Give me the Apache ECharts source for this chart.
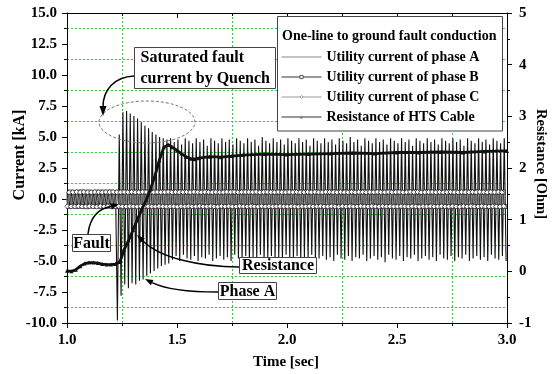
<!DOCTYPE html>
<html>
<head>
<meta charset="utf-8">
<script src="https://cdn.jsdelivr.net/npm/echarts@6/dist/echarts.min.js"></script>
<style>
html,body{margin:0;padding:0;background:#fff;}
#chart{width:554px;height:374px;}
</style>
</head>
<body>
<div id="chart"></div>
<script>
// ---------- DATA ----------
const lineFreqHz = 60;          // utility frequency, one peak pair per cycle
const timeStart = 1.0;          // s, first cycle
const xTicks = [1.0, 1.5, 2.0, 2.5, 3.0];
const currentTicks = [-10.0, -7.5, -5.0, -2.5, 0.0, 2.5, 5.0, 7.5, 10.0, 12.5, 15.0];
const resistanceTicks = [-1, 0, 1, 2, 3, 4, 5];

// Phase A: positive / negative peak of each cycle (kA)
const phaseAPos = [
  0.55,0.56,0.54,0.55,0.57,0.55,0.54,0.56,0.55,0.56,0.54,0.55,0.56,
  0.55,5.2,
  7.0,7.1,6.9,6.7,6.5,6.2,5.9,5.7,5.4,5.2,5.0,4.9,4.8,
  4.9,4.6,4.8,4.4,4.9,4.7,4.5,4.9,4.6,4.8,4.3,4.9,4.7,4.5,4.9,4.6,4.8,4.4,4.9,4.7,
  4.5,4.9,4.6,4.8,4.3,5.0,4.7,4.5,4.9,4.6,4.8,4.4,4.9,4.7,4.5,4.9,4.6,4.8,4.3,4.9,
  4.7,4.5,4.9,4.6,4.8,4.4,4.9,4.7,4.5,5.0,4.6,4.8,4.3,4.9,4.7,4.5,4.9,4.6,4.8,4.4,
  4.9,4.7,4.5,4.9,4.6,4.8,4.3,4.9,4.7,4.5,4.9,4.6,4.8,4.4,4.9,4.7,4.5,4.9,4.6,4.8,
  4.3,4.9,4.7,4.5,4.9,4.6,4.8,4.4,4.9,4.7,4.5,4.9
];
const phaseANeg = [
  -0.58,-0.6,-0.57,-0.59,-0.6,-0.58,-0.57,-0.6,-0.59,-0.58,-0.6,-0.57,-0.59,
  -9.8,-7.8,
  -6.9,-7.2,-6.8,-6.9,-6.6,-6.5,-6.2,-6.0,-5.8,-5.6,-5.4,-5.3,-5.2,
  -4.9,-4.6,-5.0,-4.5,-4.8,-4.9,-4.6,-5.0,-4.7,-4.8,-4.5,-5.0,-4.8,-4.6,-4.9,-4.7,-5.0,-4.5,-4.8,-4.9,
  -4.6,-5.0,-4.7,-4.8,-4.5,-5.1,-4.8,-4.6,-4.9,-4.7,-5.0,-4.5,-4.8,-4.9,-4.6,-5.0,-4.7,-4.8,-4.5,-5.0,
  -4.8,-4.6,-4.9,-4.7,-5.0,-4.5,-4.8,-4.9,-4.6,-5.0,-4.7,-4.8,-4.5,-5.0,-4.8,-4.6,-4.9,-4.7,-5.1,-4.5,
  -4.8,-4.9,-4.6,-5.0,-4.7,-4.8,-4.5,-5.0,-4.8,-4.6,-4.9,-4.7,-5.0,-4.5,-4.8,-4.9,-4.6,-5.0,-4.7,-4.8,
  -4.5,-5.0,-4.8,-4.6,-4.9,-4.7,-5.0,-4.5,-4.8,-4.9,-4.6,-5.0
];
// Phase B / C: peaks of each cycle (kA) – they stay in the narrow band
const phaseBPos = [
  0.55,0.56,0.54,0.55,0.57,0.55,0.56,0.54,0.55,0.56,0.56,0.55,0.57,0.54,0.55,0.56,0.55,0.54,0.56,0.55,
  0.54,0.56,0.55,0.57,0.55,0.54,0.56,0.55,0.56,0.54,0.55,0.57,0.56,0.55,0.54,0.56,0.55,0.55,0.57,0.54,
  0.56,0.55,0.54,0.56,0.55,0.57,0.55,0.54,0.56,0.55,0.55,0.56,0.54,0.55,0.57,0.55,0.56,0.54,0.55,0.56,
  0.56,0.55,0.57,0.54,0.55,0.56,0.55,0.54,0.56,0.55,0.54,0.56,0.55,0.57,0.55,0.54,0.56,0.55,0.56,0.54,
  0.55,0.57,0.56,0.55,0.54,0.56,0.55,0.55,0.57,0.54,0.56,0.55,0.54,0.56,0.55,0.57,0.55,0.54,0.56,0.55,
  0.55,0.56,0.54,0.55,0.57,0.55,0.56,0.54,0.55,0.56,0.56,0.55,0.57,0.54,0.55,0.56,0.55,0.54,0.56,0.55
];
const phaseBNeg = [
  -0.6,-0.58,-0.61,-0.59,-0.6,-0.62,-0.58,-0.6,-0.59,-0.61,-0.6,-0.58,-0.6,-0.61,-0.59,-0.6,-0.62,-0.58,-0.6,-0.59,
  -0.61,-0.6,-0.58,-0.6,-0.61,-0.59,-0.6,-0.62,-0.58,-0.6,-0.59,-0.61,-0.6,-0.58,-0.6,-0.61,-0.59,-0.6,-0.62,-0.58,
  -0.6,-0.59,-0.61,-0.6,-0.58,-0.6,-0.61,-0.59,-0.6,-0.62,-0.58,-0.6,-0.59,-0.61,-0.6,-0.58,-0.6,-0.61,-0.59,-0.6,
  -0.62,-0.58,-0.6,-0.59,-0.61,-0.6,-0.58,-0.6,-0.61,-0.59,-0.6,-0.62,-0.58,-0.6,-0.59,-0.61,-0.6,-0.58,-0.6,-0.61,
  -0.59,-0.6,-0.62,-0.58,-0.6,-0.59,-0.61,-0.6,-0.58,-0.6,-0.61,-0.59,-0.6,-0.62,-0.58,-0.6,-0.59,-0.61,-0.6,-0.58,
  -0.6,-0.61,-0.59,-0.6,-0.62,-0.58,-0.6,-0.59,-0.61,-0.6,-0.58,-0.6,-0.61,-0.59,-0.6,-0.62,-0.58,-0.6,-0.59,-0.61
];
const phaseCPos = [
  0.56,0.54,0.55,0.57,0.55,0.56,0.54,0.55,0.56,0.55,0.54,0.56,0.55,0.57,0.55,0.54,0.56,0.55,0.56,0.54,
  0.55,0.57,0.56,0.55,0.54,0.56,0.55,0.55,0.57,0.54,0.56,0.55,0.54,0.56,0.55,0.57,0.55,0.54,0.56,0.55,
  0.55,0.56,0.54,0.55,0.57,0.55,0.56,0.54,0.55,0.56,0.56,0.55,0.57,0.54,0.55,0.56,0.55,0.54,0.56,0.55,
  0.54,0.56,0.55,0.57,0.55,0.54,0.56,0.55,0.56,0.54,0.55,0.57,0.56,0.55,0.54,0.56,0.55,0.55,0.57,0.54,
  0.56,0.55,0.54,0.56,0.55,0.57,0.55,0.54,0.56,0.55,0.55,0.56,0.54,0.55,0.57,0.55,0.56,0.54,0.55,0.56,
  0.56,0.55,0.57,0.54,0.55,0.56,0.55,0.54,0.56,0.55,0.54,0.56,0.55,0.57,0.55,0.54,0.56,0.55,0.56,0.54
];
const phaseCNeg = [
  -0.59,-0.61,-0.6,-0.58,-0.6,-0.61,-0.59,-0.6,-0.62,-0.58,-0.6,-0.59,-0.61,-0.6,-0.58,-0.6,-0.61,-0.59,-0.6,-0.62,
  -0.58,-0.6,-0.59,-0.61,-0.6,-0.58,-0.6,-0.61,-0.59,-0.6,-0.62,-0.58,-0.6,-0.59,-0.61,-0.6,-0.58,-0.6,-0.61,-0.59,
  -0.6,-0.62,-0.58,-0.6,-0.59,-0.61,-0.6,-0.58,-0.6,-0.61,-0.59,-0.6,-0.62,-0.58,-0.6,-0.59,-0.61,-0.6,-0.58,-0.6,
  -0.61,-0.59,-0.6,-0.62,-0.58,-0.6,-0.59,-0.61,-0.6,-0.58,-0.6,-0.61,-0.59,-0.6,-0.62,-0.58,-0.6,-0.59,-0.61,-0.6,
  -0.58,-0.6,-0.61,-0.59,-0.6,-0.62,-0.58,-0.6,-0.59,-0.61,-0.6,-0.58,-0.6,-0.61,-0.59,-0.6,-0.62,-0.58,-0.6,-0.59,
  -0.61,-0.6,-0.58,-0.6,-0.61,-0.59,-0.6,-0.62,-0.58,-0.6,-0.59,-0.61,-0.6,-0.58,-0.6,-0.61,-0.59,-0.6,-0.62,-0.58
];
// HTS cable resistance (Ohm)
const resTime = [1.00,1.02,1.04,1.06,1.08,1.10,1.12,1.14,1.16,1.18,1.20,1.22,1.24,1.26,1.28,1.30,1.32,1.34,1.36,1.38,
  1.40,1.42,1.44,1.46,1.48,1.50,1.52,1.54,1.56,1.58,1.60,1.65,1.70,1.75,1.80,1.90,2.00,2.10,2.20,2.30,2.40,2.50,2.60,2.70,2.80,2.90,3.00];
const resValue = [0.01,0.00,0.03,0.10,0.15,0.17,0.17,0.16,0.14,0.13,0.13,0.14,0.18,0.42,0.60,0.80,1.00,1.20,1.38,1.60,
  1.85,2.15,2.40,2.45,2.40,2.34,2.28,2.22,2.18,2.17,2.19,2.22,2.21,2.23,2.25,2.27,2.26,2.27,2.28,2.29,2.28,2.30,2.30,2.31,2.30,2.32,2.33];

const seriesNames = ['Utility current of phase A','Utility current of phase B','Utility current of phase C','Resistance of HTS Cable'];

// ---------- build series data ----------
function cycleWave(pos, neg, phaseShift) {
  const T = 1 / lineFreqHz, out = [];
  for (let k = 0; k < pos.length; k++) {
    out.push([timeStart + T * (k + 0.25 + phaseShift), pos[k]]);
    out.push([timeStart + T * (k + 0.75 + phaseShift), neg[k]]);
  }
  return out;
}
const dataA = cycleWave(phaseAPos, phaseANeg, 0);
const dataB = cycleWave(phaseBPos, phaseBNeg, -1/3);
const dataC = cycleWave(phaseCPos, phaseCNeg, -2/3);
const dataR = resTime.map((t, i) => [t, resValue[i]]);

const FONT = '"Liberation Serif", "Times New Roman", serif';
const GREEN = '#22dd22';
const CLEAR = 'rgba(0,0,0,0)';

const chart = echarts.init(document.getElementById('chart'), null, {renderer: 'canvas'});

function axisCommon() {
  return {
    axisLine: {show: true, onZero: false, lineStyle: {color: '#000', width: 1}},
    axisTick: {show: true, length: 5, lineStyle: {color: '#000', width: 1}},
    minorTick: {show: true, splitNumber: 2, length: 3, lineStyle: {color: '#000', width: 1}},
    splitLine: {show: false}
  };
}

const option = {
  animation: false,
  backgroundColor: '#fff',
  grid: {left: 67, right: 47, top: 13, bottom: 51, containLabel: false},
  xAxis: [
    Object.assign(axisCommon(), {
      type: 'value', min: xTicks[0], max: xTicks[xTicks.length - 1], interval: 0.5, position: 'bottom',
      minorSplitLine: {show: true, lineStyle: {color: GREEN, type: [2, 2], width: 1}},
      axisLabel: {margin: 10, color: '#000', fontFamily: FONT, fontWeight: 'bold', fontSize: 15,
        formatter: v => v.toFixed(1)}
    }),
    Object.assign(axisCommon(), {
      type: 'value', min: xTicks[0], max: xTicks[xTicks.length - 1], interval: 0.5, position: 'top',
      axisTick: {show: true, inside: true, length: 5, lineStyle: {color: '#000'}},
      minorTick: {show: true, splitNumber: 2, length: 3, lineStyle: {color: '#000'}},
      axisLabel: {show: false}
    })
  ],
  yAxis: [
    Object.assign(axisCommon(), {
      type: 'value', min: currentTicks[0], max: currentTicks[currentTicks.length - 1], interval: 2.5, position: 'left',
      minorSplitLine: {show: true, lineStyle: {color: GREEN, type: [2, 2], width: 1}},
      axisLabel: {margin: 10, color: '#000', fontFamily: FONT, fontWeight: 'bold', fontSize: 15,
        formatter: v => v.toFixed(1)}
    }),
    Object.assign(axisCommon(), {
      type: 'value', min: resistanceTicks[0], max: resistanceTicks[resistanceTicks.length - 1], interval: 1, position: 'right',
      axisLabel: {margin: 12, color: '#000', fontFamily: FONT, fontWeight: 'bold', fontSize: 15}
    })
  ],
  legend: {
    orient: 'vertical', left: 281, top: 50, padding: 0, itemGap: 6,
    itemWidth: 40, itemHeight: 4, z: 60,
    textStyle: {fontFamily: FONT, fontWeight: 'bold', fontSize: 14, color: '#000'},
    data: [
      {name: seriesNames[0], lineStyle: {color: '#888', width: 1}, itemStyle: {color: CLEAR, borderColor: CLEAR, borderWidth: 0}},
      {name: seriesNames[1], lineStyle: {color: '#333', width: 1}, itemStyle: {color: '#fff', borderColor: '#333', borderWidth: 0.8}},
      {name: seriesNames[2], lineStyle: {color: '#999', width: 1}, itemStyle: {color: '#fff', borderColor: '#888', borderWidth: 0.8}},
      {name: seriesNames[3], lineStyle: {color: '#333', width: 1}, itemStyle: {color: '#777'}}
    ]
  },
  series: [
    {name: seriesNames[0], type: 'line', data: dataA, symbol: 'none', xAxisIndex: 0, yAxisIndex: 0,
      lineStyle: {color: '#111', width: 1.1}, itemStyle: {color: '#111'}, z: 2, clip: true},
    {name: seriesNames[1], type: 'line', data: dataB, symbol: 'rect', symbolSize: 4, xAxisIndex: 0, yAxisIndex: 0,
      lineStyle: {color: '#555', width: 0.8}, itemStyle: {color: '#fff', borderColor: '#000', borderWidth: 0.7}, z: 3, clip: true},
    {name: seriesNames[2], type: 'line', data: dataC, symbol: 'diamond', symbolSize: 5, xAxisIndex: 0, yAxisIndex: 0,
      lineStyle: {color: '#777', width: 0.8}, itemStyle: {color: '#fff', borderColor: '#222', borderWidth: 0.7}, z: 3, clip: true},
    {name: seriesNames[3], type: 'line', data: dataR, symbol: 'triangle', symbolSize: 4, xAxisIndex: 0, yAxisIndex: 1,
      lineStyle: {color: '#111', width: 2.8}, itemStyle: {color: '#111'}, z: 4, clip: true}
  ],
  graphic: [
    // legend frame and its title
    {type: 'rect', z: 50, shape: {x: 277.5, y: 16.5, width: 225, height: 114.5}, style: {fill: '#fff', stroke: '#444', lineWidth: 1}},
    {type: 'text', z: 61, style: {x: 282, y: 36, text: 'One-line to ground fault conduction', font: 'bold 14px ' + FONT, fill: '#000', verticalAlign: 'middle'}},
    // dashed ellipse
    {type: 'ellipse', z: 50, shape: {cx: 147, cy: 122, rx: 48, ry: 21}, style: {fill: null, stroke: '#777', lineWidth: 1, lineDash: [3, 2]}},
    // "Saturated fault current by Quench"
    {type: 'rect', z: 50, shape: {x: 134.5, y: 47.5, width: 141, height: 41}, style: {fill: '#fff', stroke: '#444', lineWidth: 1}},
    {type: 'text', z: 51, style: {x: 140.5, y: 58, text: 'Saturated fault', font: 'bold 16px ' + FONT, fill: '#000', verticalAlign: 'middle'}},
    {type: 'text', z: 51, style: {x: 140.5, y: 79, text: 'current by Quench', font: 'bold 16px ' + FONT, fill: '#000', verticalAlign: 'middle'}},
    {type: 'bezierCurve', z: 50, shape: {x1: 134, y1: 76, cpx1: 114, cpy1: 77, cpx2: 103, cpy2: 90, x2: 103, y2: 107}, style: {stroke: '#000', lineWidth: 1.5, fill: null}},
    {type: 'polygon', z: 50, shape: {points: [[103, 116], [99.5, 106], [106.5, 106]]}, style: {fill: '#000'}},
    // "Fault"
    {type: 'rect', z: 50, shape: {x: 72.5, y: 234.5, width: 38, height: 17}, style: {fill: '#fff', stroke: '#444', lineWidth: 1}},
    {type: 'text', z: 51, style: {x: 91.5, y: 243.5, text: 'Fault', font: 'bold 16px ' + FONT, fill: '#000', align: 'center', verticalAlign: 'middle'}},
    {type: 'bezierCurve', z: 50, shape: {x1: 88, y1: 234, cpx1: 90, cpy1: 216, cpx2: 100, cpy2: 208, x2: 111, y2: 206.5}, style: {stroke: '#000', lineWidth: 1.5, fill: null}},
    {type: 'polygon', z: 50, shape: {points: [[119, 204], [111.9, 209.4], [110.1, 203.6]]}, style: {fill: '#000'}},
    // "Resistance"
    {type: 'rect', z: 50, shape: {x: 239.5, y: 257.5, width: 77, height: 16}, style: {fill: '#fff', stroke: '#444', lineWidth: 1}},
    {type: 'text', z: 51, style: {x: 278, y: 265.5, text: 'Resistance', font: 'bold 16px ' + FONT, fill: '#000', align: 'center', verticalAlign: 'middle'}},
    {type: 'bezierCurve', z: 50, shape: {x1: 239, y1: 267, cpx1: 200, cpy1: 267, cpx2: 160, cpy2: 258, x2: 142.7, y2: 240.7}, style: {stroke: '#000', lineWidth: 1.5, fill: null}},
    {type: 'polygon', z: 50, shape: {points: [[137, 235], [144.8, 238.6], [140.6, 242.8]]}, style: {fill: '#000'}},
    // "Phase A"
    {type: 'rect', z: 50, shape: {x: 218.5, y: 282.5, width: 58, height: 17}, style: {fill: '#fff', stroke: '#444', lineWidth: 1}},
    {type: 'text', z: 51, style: {x: 247.5, y: 291.5, text: 'Phase A', font: 'bold 16px ' + FONT, fill: '#000', align: 'center', verticalAlign: 'middle'}},
    {type: 'bezierCurve', z: 50, shape: {x1: 218, y1: 292, cpx1: 185, cpy1: 292, cpx2: 163, cpy2: 288, x2: 152.2, y2: 282.6}, style: {stroke: '#000', lineWidth: 1.5, fill: null}},
    {type: 'polygon', z: 50, shape: {points: [[145, 279], [150.8, 285.3], [153.5, 279.9]]}, style: {fill: '#000'}},
    // axis titles
    {type: 'text', z: 51, x: 20, y: 155, rotation: Math.PI / 2, style: {x: 0, y: 0, text: 'Current [kA]', font: 'bold 16px ' + FONT, fill: '#000', align: 'center', verticalAlign: 'middle'}},
    {type: 'text', z: 51, x: 541, y: 164, rotation: -Math.PI / 2, style: {x: 0, y: 0, text: 'Resistance [Ohm]', font: 'bold 14.5px ' + FONT, fill: '#000', align: 'center', verticalAlign: 'middle'}},
    {type: 'text', z: 51, style: {x: 286, y: 362, text: 'Time [sec]', font: 'bold 15px ' + FONT, fill: '#000', align: 'center', verticalAlign: 'middle'}}
  ]
};
chart.setOption(option);
</script>
</body>
</html>
